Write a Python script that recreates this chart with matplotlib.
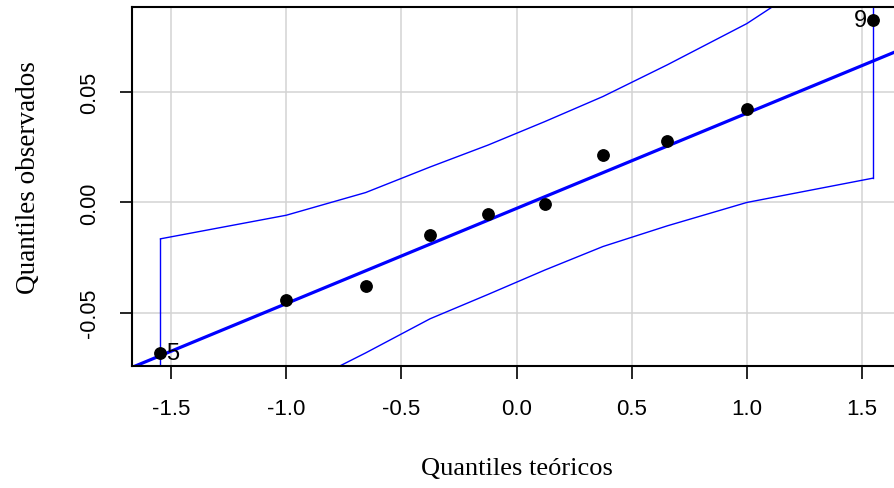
import numpy as np
import matplotlib
matplotlib.use("Agg")
import matplotlib.pyplot as plt

# Theoretical normal quantiles (ppoints with a = 3/8, n = 10)
theoretical = [-1.5466, -1.0005, -0.6554, -0.3755, -0.1226,
               0.1226, 0.3755, 0.6554, 1.0005, 1.5466]
# Observed sample quantiles (sorted residuals)
observed = [-0.0682, -0.0445, -0.0381, -0.0147, -0.0052,
            -0.0005, 0.0217, 0.0277, 0.0423, 0.0827]
# Pointwise confidence envelope
upper_env = [-0.0165, -0.0058, 0.0045, 0.0161, 0.0261,
             0.0367, 0.0481, 0.0625, 0.0812, 0.1186]
lower_env = [-0.1220, -0.0865, -0.0683, -0.0528, -0.0417,
             -0.0307, -0.0200, -0.0106, 0.0000, 0.0110]
# Reference line
line_intercept = -0.0027
line_slope = 0.0432
# Labelled extreme observations (index in sorted data, label)
labelled = [(0, "5"), (9, "9")]

x_ticks = [-1.5, -1.0, -0.5, 0.0, 0.5, 1.0, 1.5]
x_ticklabels = ["-1.5", "-1.0", "-0.5", "0.0", "0.5", "1.0", "1.5"]
y_ticks = [-0.05, 0.0, 0.05]
y_ticklabels = ["-0.05", "0.00", "0.05"]

W, H = 894, 489
fig = plt.figure(figsize=(W / 100, H / 100), dpi=100)
ax = fig.add_axes([132 / W, (H - 367) / H, (901 - 132) / W, (367 - 8) / H])

xs = np.array(theoretical)
xr = xs.max() - xs.min()
ax.set_xlim(xs.min() - 0.04 * xr, xs.max() + 0.04 * xr)
ys = np.array(observed)
yr = ys.max() - ys.min()
ax.set_ylim(ys.min() - 0.04 * yr, ys.max() + 0.04 * yr)

# grid
for xv in x_ticks:
    ax.axvline(xv, color="#d3d3d3", lw=1.1, zorder=0)
for yv in y_ticks:
    ax.axhline(yv, color="#d3d3d3", lw=1.1, zorder=0)

blue = "#0000ff"
xl = np.array(ax.get_xlim())
ax.plot(xl, line_intercept + line_slope * xl, color=blue, lw=2.3, zorder=2,
        solid_capstyle="butt")
ax.plot(theoretical, upper_env, color=blue, lw=1.0, zorder=2)
ax.plot(theoretical, lower_env, color=blue, lw=1.0, zorder=2)
ax.plot([theoretical[0], theoretical[0]], [lower_env[0], upper_env[0]],
        color=blue, lw=1.0, zorder=2)
ax.plot([theoretical[-1], theoretical[-1]], [lower_env[-1], upper_env[-1]],
        color=blue, lw=1.0, zorder=2)

ax.plot(theoretical, observed, "o", color="black", ms=8.2, zorder=3)

for idx, lab in labelled:
    left = idx == 0
    ax.annotate(lab, (theoretical[idx], observed[idx]),
                xytext=(4 if left else -4, 0), textcoords="offset points",
                ha="left" if left else "right", va="center",
                fontsize=17, family="Liberation Sans")

ax.set_xticks(x_ticks)
ax.set_xticklabels(x_ticklabels, family="Liberation Sans", fontsize=16)
ax.set_yticks(y_ticks)
ax.set_yticklabels(y_ticklabels, family="Liberation Sans", fontsize=15.5,
                   rotation=90, va="center")
ax.tick_params(axis="x", length=9, width=1.2, pad=14)
ax.tick_params(axis="y", length=9, width=1.2, pad=14)

for s in ["left", "top", "bottom", "right"]:
    ax.spines[s].set_linewidth(1.5)

fig.text(517 / W, 1 - 469 / H, "Quantiles teóricos", ha="center", va="center",
         family="Liberation Serif", fontsize=19)
fig.text(29 / W, 1 - 178 / H, "Quantiles observados", ha="center", va="center",
         rotation=90, family="Liberation Serif", fontsize=19.5)

fig.savefig("out.png", dpi=100)
